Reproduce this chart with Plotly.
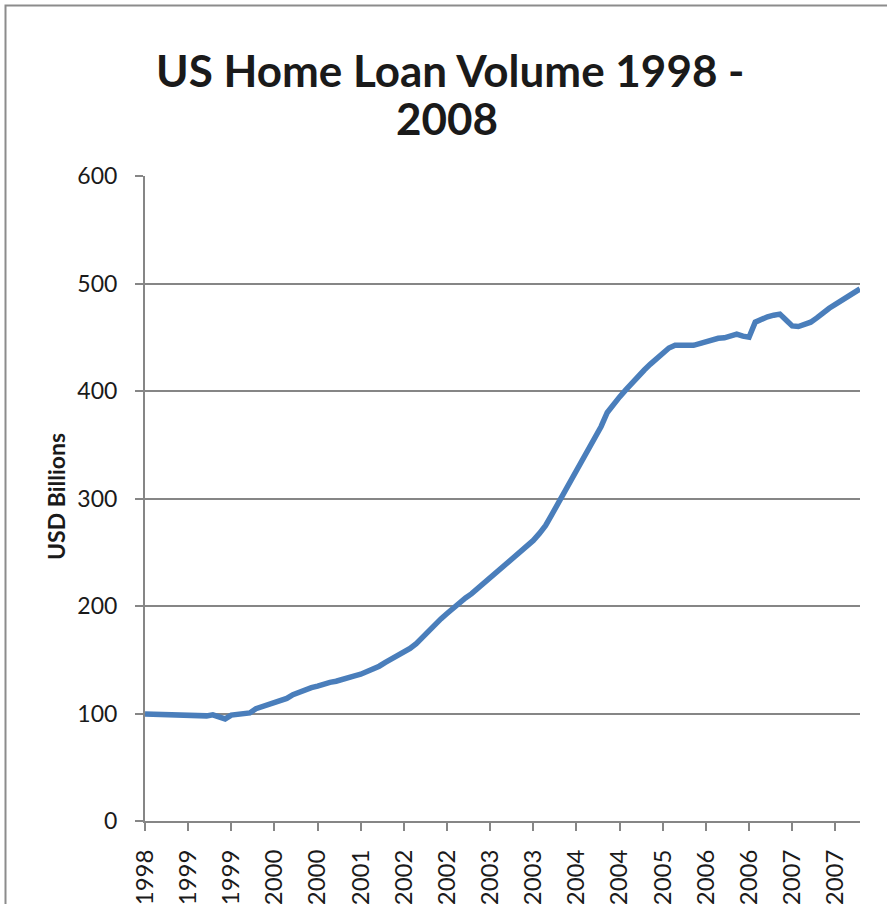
import pandas as pd
import plotly.graph_objects as go

# Monthly home loan volume, USD billions, July 1998 onward
volume = [
    99.5, 99.3, 99.0, 98.7, 98.3, 98.0, 97.7, 97.5, 97.4, 97.5,
    97.8, 98.8, 97.5, 95.0, 98.5, 99.0, 99.5, 100.5, 104.5, 106.5,
    108.5, 110.5, 112.5, 114.0, 117.5, 120.0, 122.0, 124.0, 125.5, 127.5,
    129.0, 130.0, 132.0, 133.5, 135.0, 136.5, 138.6, 141.0, 144.0, 147.5,
    150.5, 153.5, 156.5, 160.5, 165.0, 171.0, 176.5, 182.0, 188.0, 193.0,
    198.0, 204.0, 207.5, 211.5, 216.5, 221.0, 226.5, 231.5, 236.0, 241.0,
    246.0, 250.5, 255.0, 261.0, 267.5, 275.0, 285.0, 295.0, 305.0, 315.5,
    326.5, 336.0, 344.5, 355.0, 367.0, 380.0, 388.0, 394.5, 401.0, 407.5,
    413.5, 419.5, 425.0, 430.0, 435.0, 440.0, 442.5, 443.0, 442.5, 442.5,
    444.0, 446.0, 448.0, 449.0, 449.5, 451.0, 453.0, 451.0, 450.0, 464.0,
    467.0, 469.0, 470.5, 471.5, 466.0, 460.5, 460.0, 462.0, 464.0, 468.0,
    473.0, 477.0, 480.5, 484.5, 488.0, 491.5, 495.0,
]
months = [d.strftime("%Y-%m") for d in pd.date_range("1998-07-01", periods=len(volume), freq="MS")]

# Axis labels: one year label every seventh month
tick_step = 7
tick_labels = [
    "1998", "1999", "1999", "2000", "2000", "2001", "2002", "2002", "2003",
    "2003", "2004", "2004", "2005", "2006", "2006", "2007", "2007",
]
tick_months = months[::tick_step][: len(tick_labels)]
y_ticks = [0, 100, 200, 300, 400, 500, 600]

FONT = "Lato"
TEXT = "#1a1a1a"
AXIS_GRAY = "#868686"
LINE_BLUE = "#4A7EBB"

fig = go.Figure()
fig.add_trace(
    go.Scatter(
        x=months,
        y=volume,
        mode="lines",
        line=dict(color=LINE_BLUE, width=5.5),
        hoverinfo="x+y",
    )
)

W, H = 887, 904
L, R, T, B = 145, 27, 176, 83
pw, ph = W - L - R, H - T - B


def px_x(p):
    return (p - L) / pw


def px_y(p):
    return (H - B - p) / ph


fig.update_layout(
    width=W,
    height=H,
    margin=dict(l=L, r=R, t=T, b=B, pad=0),
    paper_bgcolor="white",
    plot_bgcolor="white",
    showlegend=False,
    font=dict(family=FONT, color=TEXT),
    xaxis=dict(
        type="category",
        range=[0, len(volume) - 1],
        automargin=False,
        tickmode="array",
        tickvals=tick_months,
        ticktext=tick_labels,
        tickangle=-90,
        ticks="outside",
        ticklen=8,
        tickwidth=2,
        tickcolor=AXIS_GRAY,
        showline=True,
        linecolor=AXIS_GRAY,
        linewidth=2,
        showgrid=False,
        zeroline=False,
        tickfont=dict(family=FONT, size=24, color=TEXT),
        ticklabelstandoff=9,
    ),
    yaxis=dict(
        range=[0, 600],
        automargin=False,
        tickmode="array",
        tickvals=y_ticks,
        ticks="outside",
        ticklen=8,
        tickwidth=2,
        tickcolor=AXIS_GRAY,
        showline=True,
        linecolor=AXIS_GRAY,
        linewidth=2,
        showgrid=True,
        gridcolor=AXIS_GRAY,
        gridwidth=2,
        zeroline=False,
        tickfont=dict(family=FONT, size=23, color=TEXT),
        ticklabelstandoff=13,
    ),
    annotations=[
        dict(
            text="<b>US Home Loan Volume 1998 -</b>",
            xref="paper", yref="paper",
            x=px_x(450), y=px_y(70),
            xanchor="center", yanchor="middle",
            showarrow=False,
            font=dict(family=FONT, size=44, color=TEXT, weight=800),
        ),
        dict(
            text="<b>2008</b>",
            xref="paper", yref="paper",
            x=px_x(447), y=px_y(118),
            xanchor="center", yanchor="middle",
            showarrow=False,
            font=dict(family=FONT, size=44, color=TEXT, weight=800),
        ),
        dict(
            text="<b>USD Billions</b>",
            xref="paper", yref="paper",
            x=px_x(56), y=px_y(497),
            xanchor="center", yanchor="middle",
            textangle=-90,
            showarrow=False,
            font=dict(family=FONT, size=23, color=TEXT, weight=800),
        ),
    ],
    shapes=[
        dict(
            type="rect",
            xref="paper", yref="paper",
            x0=px_x(5.5), x1=px_x(W + 20),
            y0=px_y(H + 20), y1=px_y(5.5),
            line=dict(color="#8c8c8c", width=2),
            fillcolor="rgba(0,0,0,0)",
            layer="below",
        )
    ],
)

fig.write_html("out.html")
